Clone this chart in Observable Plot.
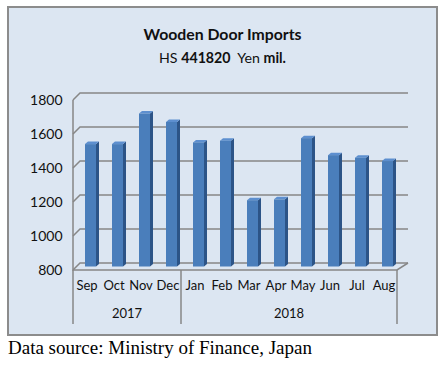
<!DOCTYPE html>
<html><head><meta charset="utf-8">
<script src="https://cdn.jsdelivr.net/npm/d3@7"></script>
<script src="https://cdn.jsdelivr.net/npm/@observablehq/plot@0.6"></script>
<style>
body{margin:0;width:447px;height:366px;background:#fff;position:relative;overflow:hidden;font-family:Lato,sans-serif}
#box{position:absolute;left:7px;top:6px;width:431px;height:330px;box-sizing:border-box;border:2px solid #8c8c8c;background:#dce6f2}
.t{position:absolute;left:7px;width:431px;text-align:center;color:#111;line-height:18px}
#t1{top:25px;font-weight:bold;font-size:15.8px}
#t2{top:49px;font-size:14.2px}
#chart{position:absolute;left:8px;top:75px}
#chart g[aria-label^="y-axis"] text{font-size:14px}
#cap{position:absolute;left:8px;top:337px;font-family:"Liberation Serif",serif;font-size:19px;line-height:22px;color:#000}
</style></head>
<body>
<div id="box"></div>
<div class="t" id="t1">Wooden Door Imports</div>
<div class="t" id="t2">HS <b>441820</b>&nbsp; Yen <b>mil.</b></div>
<div id="chart"></div>
<div id="cap">Data source: Ministry of Finance, Japan</div>
<script>
const months = ["Sep","Oct","Nov","Dec","Jan","Feb","Mar","Apr","May","Jun","Jul","Aug"];
const values = [1520,1520,1700,1650,1530,1540,1190,1195,1555,1455,1440,1420];
const yearLabels = ["2017","2018"];
const yearFirst = ["Sep","Jan"];
const yearLast = ["Dec","Aug"];
const yTicks = [800,1000,1200,1400,1600,1800];

const data = months.map((m,i)=>({m, v: values[i]}));
const GRID = "#878787";
const INSET = 8, SHIFT = 4, LIFT = 3.5, DEPX = 3, DEPY = 2.5;

function walls(index, {x, y}, values_, dims) {
  const g = d3.create("svg:g");
  const x0 = dims.marginLeft, x1 = dims.width - dims.marginRight;
  const dl = 7, dr = 11, dz = 7;
  for (const t of yTicks) {
    const yy = y(t);
    g.append("path").attr("d", `M${x0},${yy}L${x0+dl},${yy-dz}L${x1+dr},${yy-dz}`)
      .attr("fill","none").attr("stroke",GRID).attr("stroke-width",1.5);
  }
  const yb = y(800);
  g.append("path").attr("d", `M${x0},${y(1800)}L${x0},${yb}L${x1},${yb}L${x1+dr},${yb-dz}`)
    .attr("fill","none").attr("stroke",GRID).attr("stroke-width",1.5);
  return g.node();
}

function sides(index, {x, y}) {
  const g = d3.create("svg:g");
  const bw = x(months[1]) - x(months[0]);
  months.forEach((m,i) => {
    const xl = x(m) + INSET + SHIFT, xr = x(m) + bw - INSET + SHIFT;
    const yt = y(values[i]) - LIFT, yb = y(800) - LIFT;
    g.append("path").attr("d", `M${xr},${yt}L${xr+DEPX},${yt-DEPY}L${xr+DEPX},${yb-DEPY}L${xr},${yb}Z`).attr("fill","#2c5487");
    g.append("path").attr("d", `M${xl},${yt}L${xl+DEPX},${yt-DEPY}L${xr+DEPX},${yt-DEPY}L${xr},${yt}Z`).attr("fill","#5d8fcf");
  });
  return g.node();
}

function groups(index, {x, y}) {
  const g = d3.create("svg:g");
  const bw = x(months[1]) - x(months[0]);
  const yb = y(800);
  const edges = [x(months[0]), x("Jan"), x(months[months.length-1]) + bw];
  for (const e of edges) {
    g.append("line").attr("x1",e).attr("x2",e).attr("y1",yb).attr("y2",yb+54)
      .attr("stroke",GRID).attr("stroke-width",1.5);
  }
  yearLabels.forEach((lab,i) => {
    const cx = (x(yearFirst[i]) + x(yearLast[i]) + bw) / 2;
    g.append("text").attr("x",cx).attr("y",yb+43).attr("dy","0.35em")
      .attr("text-anchor","middle").attr("font-size",13).attr("fill","#111").text(lab);
  });
  return g.node();
}

const chart = Plot.plot({
  width: 429, height: 255,
  marginLeft: 65, marginRight: 40, marginTop: 25, marginBottom: 60,
  style: {background: "transparent", fontFamily: "Lato, sans-serif", fontSize: "13px", color: "#111", overflow: "visible"},
  x: {domain: months, padding: 0, tickSize: 0, tickPadding: 10, label: null},
  y: {domain: [800,1800], ticks: yTicks, tickSize: 0, tickPadding: 11, label: null, tickFormat: d => String(d)},
  marks: [
    walls,
    sides,
    Plot.rectY(data, {x: "m", y1: 800, y2: "v", fill: "#4a7ebb", insetLeft: INSET, insetRight: INSET, dx: SHIFT, dy: -LIFT}),
    groups
  ]
});
document.getElementById("chart").append(chart);
</script>
</body></html>
